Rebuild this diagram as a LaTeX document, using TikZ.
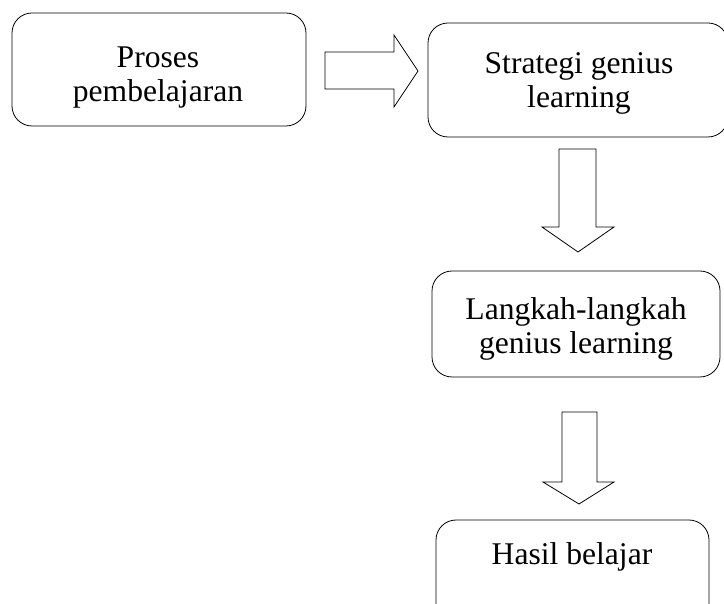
\documentclass[tikz,border=0pt]{standalone}
\usepackage{fontspec}
\setmainfont{Liberation Serif}
\usetikzlibrary{positioning}
\tikzset{line width=0.9pt}
\tikzset{box/.style={draw,rounded corners=10pt,inner sep=0pt}}
\tikzset{boxtext/.style={inner sep=0pt,align=center,font=\fontsize{15.8}{17}\selectfont}}
\tikzset{blockarrow/.style={draw,line join=miter}}

\begin{document}
\begin{tikzpicture}[x=0.5pt,y=-0.5pt]
  \useasboundingbox (0,0) rectangle (724,604);

  % Proses pembelajaran
  \node[box,minimum width=147pt,minimum height=56.5pt] (proses) at (159,69.5) {};
  \node[boxtext] (prosestext) at (158,77.5) {Proses\\pembelajaran};

  % Strategi genius learning
  \node[box,minimum width=150pt,minimum height=57pt] (strategi) at (578,80) {};
  \node[boxtext] (strategitext) at (579,83.5) {Strategi genius\\learning};

  % Langkah-langkah
  \node[box,minimum width=144pt,minimum height=53pt] (langkah) at (576,324) {};
  \node[boxtext] (langkahtext) at (576,329) {Langkah-langkah\\genius learning};

  % Hasil belajar
  \node[box,minimum width=136.5pt,minimum height=53pt] (hasil) at (572.5,573) {};
  \node[boxtext] (hasiltext) at (572,556.5) {Hasil belajar};

  % block arrows
  \draw[blockarrow] (325,52) -- (394,52) -- (394,35) -- (418,71) -- (394,107) -- (394,89) -- (325,89) -- cycle;
  \draw[blockarrow] (559,149) -- (596,149) -- (596,227) -- (614,227) -- (578,252) -- (542,227) -- (559,227) -- cycle;
  \draw[blockarrow] (562,412) -- (597,412) -- (597,482) -- (614,482) -- (579,504) -- (543,482) -- (562,482) -- cycle;
\end{tikzpicture}
\end{document}
